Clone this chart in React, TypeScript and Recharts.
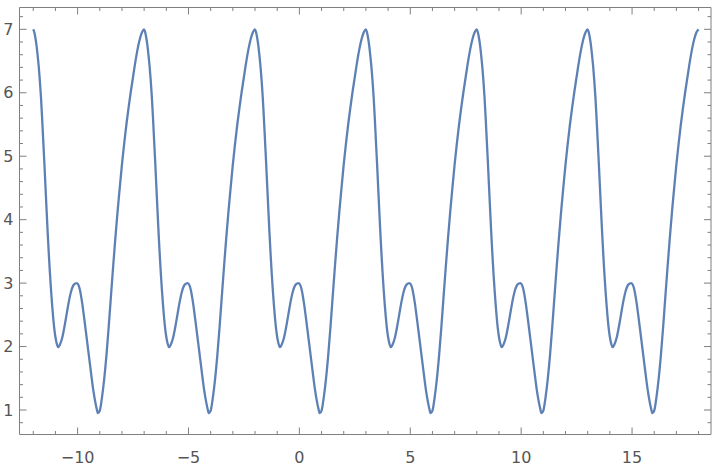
import { LineChart, Line, XAxis, YAxis } from "recharts";

// one period of the curve (t = offset from each peak)
const shapeT = [
  0, 0.05, 0.1, 0.15, 0.2, 0.25, 0.3, 0.35, 0.4, 0.45, 0.5, 0.55, 0.6, 0.65, 0.7, 0.75, 0.8, 0.85, 0.9, 0.95,
  1.0, 1.05, 1.12, 1.2, 1.3, 1.4, 1.5, 1.6, 1.7, 1.8, 1.9, 1.96, 2.05, 2.1, 2.2, 2.3, 2.4, 2.5, 2.6, 2.7,
  2.8, 2.86, 2.92, 3.0, 3.1, 3.2, 3.3, 3.4, 3.5, 3.6, 3.7, 3.8, 3.9, 4.0, 4.1, 4.2, 4.3, 4.4, 4.5, 4.6,
  4.7, 4.8, 4.9, 5.0,
];
const shapeV = [
  7.0, 6.95, 6.86, 6.74, 6.58, 6.4, 6.18, 5.92, 5.6, 5.25, 4.9, 4.53, 4.16, 3.8, 3.47, 3.17, 2.9, 2.66, 2.45, 2.28,
  2.15, 2.06, 1.99, 2.03, 2.13, 2.3, 2.5, 2.7, 2.86, 2.96, 2.995, 3.0, 2.96, 2.9, 2.7, 2.44, 2.16, 1.88, 1.6, 1.33,
  1.12, 1.02, 0.95, 0.99, 1.2, 1.49, 1.86, 2.3, 2.78, 3.25, 3.7, 4.12, 4.5, 4.87, 5.2, 5.5, 5.77, 6.02, 6.25, 6.48,
  6.68, 6.84, 6.95, 7.0,
];
// the plot repeats that period six times
const periodStarts = [-12, -7, -2, 3, 8, 13];

const xMajor = [-10, -5, 0, 5, 10, 15];
const yMajor = [1, 2, 3, 4, 5, 6, 7];
const xTicks = Array.from({ length: 31 }, (_, i) => i - 12);
const yTicks = Array.from({ length: 33 }, (_, i) => Math.round((0.8 + i * 0.2) * 10) / 10);

const data = periodStarts.flatMap((s, i) =>
  shapeT
    .map((t, j) => ({ x: Math.round((s + t) * 1000) / 1000, v: shapeV[j] }))
    .filter((_, j) => j < shapeT.length - 1 || i === periodStarts.length - 1)
);

const FRAME = "#7f7f7f";
const LABEL = "#555555";
const FONT = "DejaVu Sans";

const fmt = (v: number) => (v < 0 ? `\u2212${Math.abs(v)}` : `${v}`);

function BottomTick({ x, y, payload }: any) {
  const major = xMajor.includes(payload.value);
  return (
    <g>
      <line x1={x} y1={y} x2={x} y2={y - (major ? 7 : 3.5)} stroke={FRAME} />
      {major && (
        <text x={x} y={y + 28} textAnchor="middle" fontSize={16} fontFamily={FONT} fill={LABEL}>
          {fmt(payload.value)}
        </text>
      )}
    </g>
  );
}

function TopTick({ x, y, payload }: any) {
  const major = xMajor.includes(payload.value);
  return <line x1={x} y1={y} x2={x} y2={y + (major ? 7 : 3.5)} stroke={FRAME} />;
}

function LeftTick({ x, y, payload }: any) {
  const major = yMajor.includes(payload.value);
  return (
    <g>
      <line x1={x} y1={y} x2={x + (major ? 7 : 3.5)} y2={y} stroke={FRAME} />
      {major && (
        <text x={x - 6} y={y} textAnchor="end" dominantBaseline="central" fontSize={16} fontFamily={FONT} fill={LABEL}>
          {payload.value}
        </text>
      )}
    </g>
  );
}

function RightTick({ x, y, payload }: any) {
  const major = yMajor.includes(payload.value);
  return <line x1={x} y1={y} x2={x - (major ? 7 : 3.5)} y2={y} stroke={FRAME} />;
}

export default function App() {
  const xDomain = [-12.62, 18.56];
  const yDomain = [0.614, 7.344];
  return (
    <div style={{ position: "absolute", left: 0, top: 0, background: "#fff" }}>
      <LineChart width={720} height={466} data={data} margin={{ top: 6.5, right: 8, bottom: 0, left: 0 }}>
        <XAxis
          xAxisId="b"
          dataKey="x"
          type="number"
          domain={xDomain}
          ticks={xTicks}
          interval={0}
          height={31.5}
          tickSize={0}
          tickMargin={0}
          tickLine={false}
          axisLine={{ stroke: FRAME }}
          tick={<BottomTick />}
          allowDataOverflow
        />
        <XAxis
          xAxisId="t"
          orientation="top"
          dataKey="x"
          type="number"
          domain={xDomain}
          ticks={xTicks}
          interval={0}
          height={1}
          tickSize={0}
          tickMargin={0}
          tickLine={false}
          axisLine={{ stroke: FRAME }}
          tick={<TopTick />}
          allowDataOverflow
        />
        <YAxis
          yAxisId="l"
          type="number"
          domain={yDomain}
          ticks={yTicks}
          interval={0}
          width={19.5}
          tickSize={0}
          tickMargin={0}
          tickLine={false}
          axisLine={{ stroke: FRAME }}
          tick={<LeftTick />}
          allowDataOverflow
        />
        <YAxis
          yAxisId="r"
          orientation="right"
          type="number"
          domain={yDomain}
          ticks={yTicks}
          interval={0}
          width={1}
          tickSize={0}
          tickMargin={0}
          tickLine={false}
          axisLine={{ stroke: FRAME }}
          tick={<RightTick />}
          allowDataOverflow
        />
        <Line
          xAxisId="b"
          yAxisId="l"
          dataKey="v"
          type="monotone"
          stroke="#5e81b5"
          strokeWidth={2.3}
          dot={false}
          isAnimationActive={false}
        />
      </LineChart>
    </div>
  );
}
